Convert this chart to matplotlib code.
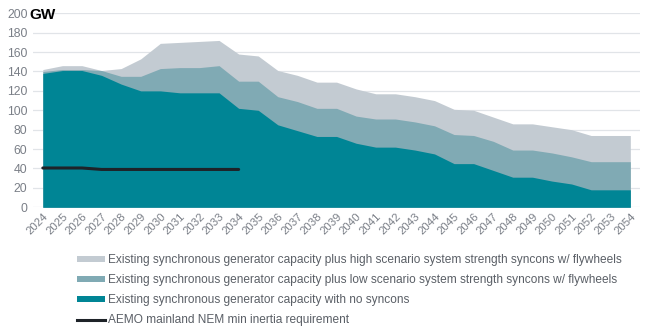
import matplotlib
matplotlib.use("Agg")
import matplotlib.pyplot as plt
from matplotlib.patches import Patch
from matplotlib.lines import Line2D

plt.rcParams['font.family'] = ['Liberation Sans', 'DejaVu Sans']

years = list(range(2024, 2055))
no_syncons = [138, 141, 141, 136, 127, 120, 120, 118, 118, 118, 102, 100, 85, 79, 73,
              73, 66, 62, 62, 59, 55, 45, 45, 38, 31, 31, 27, 24, 18, 18, 18]
low_scenario = [140, 142, 142, 141, 135, 135, 143, 144, 144, 146, 130, 130, 114, 109, 102,
                102, 94, 91, 91, 88, 84, 75, 74, 68, 59, 59, 56, 52, 47, 47, 47]
high_scenario = [142, 146, 146, 141, 143, 153, 169, 170, 171, 172, 158, 156, 141, 136, 129,
                 129, 122, 117, 117, 114, 110, 101, 100, 93, 86, 86, 83, 80, 74, 74, 74]
inertia_years = list(range(2024, 2035))
inertia_req = [40.5, 40.5, 40.5, 39, 39, 39, 39, 39, 39, 39, 39]

labels = [
    "Existing synchronous generator capacity plus high scenario system strength syncons w/ flywheels",
    "Existing synchronous generator capacity plus low scenario system strength syncons w/ flywheels",
    "Existing synchronous generator capacity with no syncons",
    "AEMO mainland NEM min inertia requirement",
]

c_high = "#C3CBD2"
c_low = "#80AAB4"
c_teal = "#008595"
grey = "#7A7F87"

fig = plt.figure(figsize=(6.5, 3.29), dpi=100)
ax = fig.add_axes([0.0508, 0.370, 0.934, 0.5896])

ax.fill_between(years, 0, high_scenario, color=c_high, lw=0, zorder=2)
ax.fill_between(years, 0, low_scenario, color=c_low, lw=0, zorder=3)
ax.fill_between(years, 0, no_syncons, color=c_teal, lw=0, zorder=4)
ax.plot(inertia_years, inertia_req, color="#1E2328", lw=2.2, zorder=5, solid_capstyle="round")

ax.set_xlim(2023.5, 2054.5)
ax.set_ylim(0, 200)
ax.set_yticks(range(0, 201, 20))
ax.set_xticks(years)
ax.set_xticklabels([str(y) for y in years], rotation=45, ha="right", rotation_mode="anchor",
                   fontsize=8.2, color=grey)
ax.tick_params(axis="x", length=0, pad=3)
ax.tick_params(axis="y", length=0, labelsize=8.8, labelcolor=grey, pad=4)
ax.grid(axis="y", color="#E1E4E8", lw=0.9, zorder=0)
ax.set_axisbelow(True)
for s in ax.spines.values():
    s.set_visible(False)

fig.text(0.045, 0.955, "GW", fontsize=11, fontweight="bold", color="black", va="center", ha="left")

handles = [
    Patch(facecolor=c_high, edgecolor="none"),
    Patch(facecolor=c_low, edgecolor="none"),
    Patch(facecolor=c_teal, edgecolor="none"),
    Line2D([0], [0], color="#1E2328", lw=2.2),
]
leg = fig.legend(handles, labels, loc="upper left", bbox_to_anchor=(0.118, 0.228),
                 frameon=False, fontsize=8.6, handlelength=2.4, handleheight=0.45,
                 handletextpad=0.2, labelspacing=0.68, borderaxespad=0, borderpad=0)
for t in leg.get_texts():
    t.set_color("#5A5F66")

fig.savefig("out.png", dpi=100)
